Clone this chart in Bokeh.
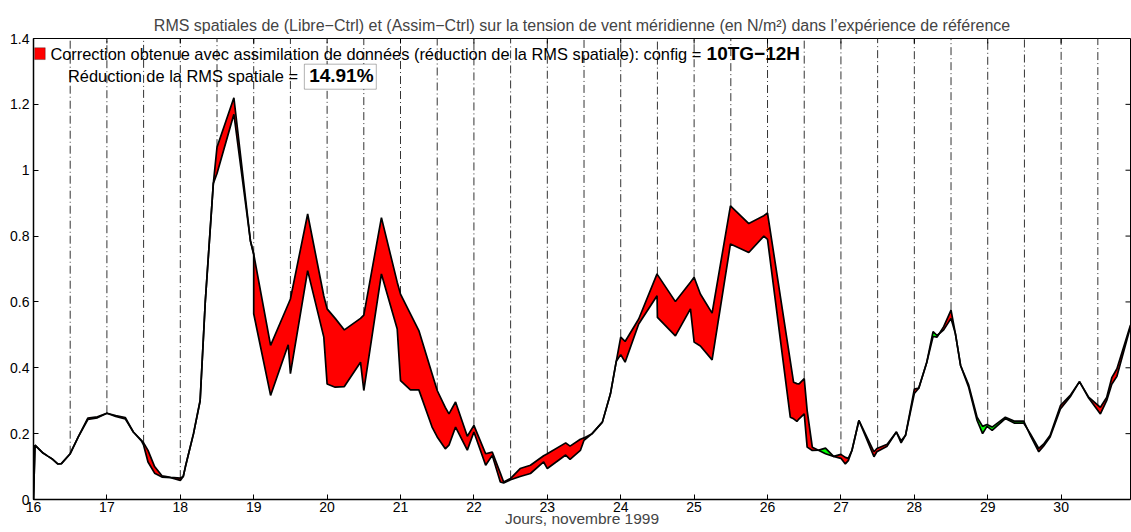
import numpy as np
from bokeh.plotting import figure
from bokeh.models import Range1d, FixedTicker, Label, BoxAnnotation
from bokeh.embed import file_html
from bokeh.resources import INLINE

# ---- data ----
t = [16.00, 16.02, 16.13, 16.20, 16.25, 16.33, 16.38, 16.50, 16.61, 16.74, 16.87,
     17.00, 17.12, 17.25, 17.36, 17.47, 17.50, 17.56, 17.65, 17.75, 17.87,
     18.00, 18.04, 18.07, 18.18, 18.27, 18.34, 18.45, 18.50, 18.73, 18.955,
     19.00, 19.00, 19.23, 19.47, 19.50, 19.735, 19.955,
     20.00, 20.11, 20.235, 20.455, 20.50, 20.74, 20.955,
     21.00, 21.135, 21.25, 21.43, 21.50, 21.61, 21.66, 21.75, 21.91,
     22.00, 22.16, 22.25, 22.36, 22.405, 22.50, 22.63, 22.77, 22.95,
     23.00, 23.25, 23.31, 23.45, 23.50, 23.61, 23.75, 23.86, 23.94,
     24.00, 24.06, 24.245, 24.495, 24.50, 24.745, 24.95,
     25.00, 25.085, 25.245, 25.495, 25.745, 25.95,
     26.00, 26.31, 26.355, 26.40, 26.43, 26.50, 26.54, 26.61, 26.70, 26.79, 26.90,
     27.00, 27.06, 27.10, 27.15, 27.245, 27.45, 27.49, 27.63, 27.755, 27.82, 27.88,
     28.00, 28.06, 28.17, 28.255, 28.31, 28.40, 28.50, 28.56, 28.63, 28.74, 28.855, 28.93, 28.99,
     29.06, 29.24, 29.36, 29.49, 29.58, 29.695, 29.76, 29.85, 29.99,
     30.13, 30.25, 30.375, 30.535, 30.62, 30.69, 30.76, 30.945]

libre = [0.000, 0.165, 0.141, 0.131, 0.124, 0.108, 0.109, 0.139, 0.190, 0.247, 0.251,
         0.262, 0.255, 0.249, 0.205, 0.180, 0.172, 0.149, 0.100, 0.072, 0.067,
         0.065, 0.070, 0.100, 0.200, 0.300, 0.600, 0.960, 1.070, 1.220, 0.786,
         0.745, 0.745, 0.468, 0.593, 0.609, 0.867, 0.618,
         0.579, 0.550, 0.515, 0.550, 0.560, 0.856, 0.660,
         0.624, 0.564, 0.513, 0.382, 0.331, 0.280, 0.260, 0.296, 0.192,
         0.225, 0.139, 0.144, 0.080, 0.053, 0.064, 0.094, 0.104, 0.133,
         0.139, 0.172, 0.162, 0.183, 0.187, 0.200, 0.235, 0.321, 0.420,
         0.493, 0.480, 0.548, 0.685, 0.683, 0.601, 0.660,
         0.675, 0.624, 0.566, 0.892, 0.838, 0.862,
         0.870, 0.421, 0.356, 0.352, 0.351, 0.367, 0.270, 0.159, 0.149, 0.139, 0.131,
         0.137, 0.128, 0.125, 0.149, 0.240, 0.145, 0.155, 0.168, 0.205, 0.178, 0.195,
         0.335, 0.338, 0.417, 0.495, 0.493, 0.525, 0.575, 0.503, 0.407, 0.341, 0.240, 0.200, 0.222,
         0.210, 0.246, 0.232, 0.232, 0.200, 0.155, 0.168, 0.195, 0.285,
         0.318, 0.358, 0.311, 0.280, 0.310, 0.370, 0.397, 0.530]

assim = [0.000, 0.165, 0.141, 0.131, 0.124, 0.108, 0.109, 0.139, 0.190, 0.243, 0.248,
         0.262, 0.252, 0.245, 0.205, 0.178, 0.165, 0.114, 0.080, 0.068, 0.066,
         0.058, 0.070, 0.100, 0.200, 0.300, 0.600, 0.960, 0.990, 1.170, 0.786,
         0.745, 0.564, 0.316, 0.470, 0.382, 0.695, 0.493,
         0.351, 0.341, 0.343, 0.417, 0.331, 0.685, 0.518,
         0.361, 0.333, 0.333, 0.220, 0.190, 0.154, 0.165, 0.220, 0.150,
         0.205, 0.104, 0.134, 0.053, 0.050, 0.060, 0.070, 0.079, 0.114,
         0.094, 0.135, 0.122, 0.149, 0.180, 0.200, 0.235, 0.321, 0.420,
         0.440, 0.417, 0.533, 0.619, 0.553, 0.497, 0.579,
         0.478, 0.466, 0.424, 0.776, 0.750, 0.800,
         0.790, 0.250, 0.245, 0.237, 0.245, 0.260, 0.159, 0.149, 0.150, 0.156, 0.131,
         0.125, 0.108, 0.118, 0.149, 0.240, 0.130, 0.145, 0.162, 0.205, 0.172, 0.195,
         0.322, 0.338, 0.417, 0.510, 0.498, 0.515, 0.550, 0.503, 0.407, 0.348, 0.250, 0.222, 0.228,
         0.220, 0.250, 0.238, 0.238, 0.195, 0.145, 0.162, 0.190, 0.275,
         0.314, 0.358, 0.308, 0.260, 0.300, 0.350, 0.374, 0.525]

day_ticks = [16, 17, 18, 19, 20, 21, 22, 23, 24, 25, 26, 27, 28, 29, 30]
y_ticks = [0, 0.2, 0.4, 0.6, 0.8, 1.0, 1.2, 1.4]
y_tick_labels = ["0", "0.2", "0.4", "0.6", "0.8", "1", "1.2", "1.4"]
marker_times = [16.5, 17, 17.5, 18, 18.5, 19, 19.5, 20, 20.5, 21, 21.5, 22, 22.5,
                23, 23.5, 24, 24.5, 25, 25.5, 26, 26.5, 27, 27.5, 28, 28.5,
                29, 29.5, 30, 30.5]

title_text = ("RMS spatiales de (Libre\u2212Ctrl) et (Assim\u2212Ctrl) sur la tension de vent "
              "m\u00e9ridienne (en N/m\u00b2) dans l\u2019exp\u00e9rience de r\u00e9f\u00e9rence")
legend_text = ("Correction obtenue avec assimilation de donn\u00e9es "
               "(r\u00e9duction de la RMS spatiale): config =")
config_text = "10TG\u221212H"
reduc_text = "R\u00e9duction de la RMS spatiale ="
reduc_value = "14.91%"

FONT = "Liberation Sans"
X0, X1 = 16, 30.945
Y0, Y1 = 0, 1.4

t_arr = np.array(t)
lib = np.array(libre)
asm = np.array(assim)
top = np.maximum(lib, asm)

p = figure(width=1131, height=532, output_backend="svg", toolbar_location=None,
           x_range=Range1d(X0, X1), y_range=Range1d(Y0, Y1),
           min_border_left=33, min_border_right=1, min_border_top=38, min_border_bottom=33,
           title=title_text)
p.title.align = "center"
p.title.text_font = FONT
p.title.text_font_size = "16px"
p.title.text_font_style = "normal"
p.title.standoff = 9
p.grid.visible = False
p.outline_line_color = "black"
p.outline_line_width = 1
p.background_fill_color = "white"
p.border_fill_color = "white"

# vertical dash-dot markers from the curve up to the top
mt = np.array(marker_times)
p.segment(x0=mt, y0=np.interp(mt, t_arr, top), x1=mt, y1=np.full(len(mt), Y1),
          line_color="#333333", line_width=1, line_dash="8 3 1 3")

# fills
p.varea(x=t_arr, y1=asm, y2=top, fill_color="#ff0000")
p.varea(x=t_arr, y1=lib, y2=top, fill_color="#00ff00")

# curves
p.line(t_arr, lib, line_color="black", line_width=1.7)
p.line(t_arr, asm, line_color="black", line_width=1.7)

# mirrored inward ticks on the right and top edges (MATLAB box style)
yt = np.array(y_ticks)
xt = np.array(day_ticks)
tick_dx = (X1 - X0) * 5.0 / 1097
tick_dy = (Y1 - Y0) * 5.0 / 461
p.segment(x0=np.full(len(yt), X1), y0=yt, x1=np.full(len(yt), X1 - tick_dx), y1=yt,
          line_color="black", line_width=1)
p.segment(x0=xt, y0=np.full(len(xt), Y1), x1=xt, y1=np.full(len(xt), Y1 - tick_dy),
          line_color="black", line_width=1)

# axes
for ax in (p.xaxis[0], p.yaxis[0]):
    ax.major_tick_in = 5
    ax.major_tick_out = 0
    ax.minor_tick_line_color = None
    ax.axis_line_width = 1.5
    ax.major_label_text_font = FONT
    ax.major_label_text_font_size = "14px"
    ax.major_label_text_color = "black"
p.xaxis.ticker = FixedTicker(ticks=day_ticks)
p.yaxis.ticker = FixedTicker(ticks=y_ticks)
p.yaxis.major_label_overrides = {v: s for v, s in zip(y_ticks, y_tick_labels)}
p.xaxis.major_label_standoff = 2
p.yaxis.major_label_standoff = 4
p.xaxis.axis_label = "Jours, novembre 1999"
p.xaxis.axis_label_text_font = FONT
p.xaxis.axis_label_text_font_size = "15.5px"
p.xaxis.axis_label_text_font_style = "normal"
p.xaxis.axis_label_standoff = -5

# legend-like annotations
p.add_layout(BoxAnnotation(left=16.015, right=16.16, bottom=1.336, top=1.372,
                           fill_color="#ff0000", fill_alpha=1, line_color="black", line_width=1))
p.add_layout(Label(x=16.23, y=1.352, text=legend_text, text_font=FONT, text_font_size="16.4px",
                   text_baseline="middle", text_color="black"))
p.add_layout(Label(x=25.17, y=1.354, text=config_text, text_font=FONT, text_font_size="19px",
                   text_font_style="bold", text_baseline="middle", text_color="black"))
p.add_layout(Label(x=16.47, y=1.287, text=reduc_text, text_font=FONT, text_font_size="16.4px",
                   text_baseline="middle", text_color="black"))
p.add_layout(BoxAnnotation(left=19.69, right=20.67, bottom=1.246, top=1.322,
                           fill_color="white", fill_alpha=1, line_color="black", line_width=1))
p.add_layout(Label(x=19.755, y=1.287, text=reduc_value, text_font=FONT, text_font_size="19px",
                   text_font_style="bold", text_baseline="middle", text_color="black"))

open("out.html", "w").write(file_html(p, INLINE))
